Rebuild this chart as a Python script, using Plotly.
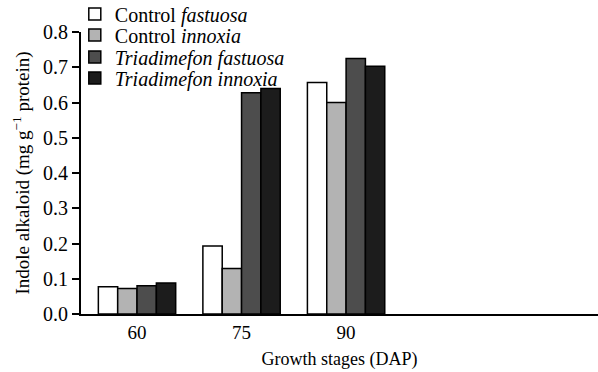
import plotly.graph_objects as go

stages = ["60", "75", "90"]
series_names = ["Control <i>fastuosa</i>", "Control <i>innoxia</i>",
                "<i>Triadimefon fastuosa</i>", "<i>Triadimefon innoxia</i>"]
control_fastuosa = [0.077, 0.193, 0.657]
control_innoxia = [0.072, 0.129, 0.600]
triad_fastuosa = [0.080, 0.628, 0.725]
triad_innoxia = [0.088, 0.640, 0.703]
y_ticks = [0.0, 0.1, 0.2, 0.3, 0.4, 0.5, 0.6, 0.7, 0.8]

values = [control_fastuosa, control_innoxia, triad_fastuosa, triad_innoxia]
colors = ["#ffffff", "#b3b3b3", "#4d4d4d", "#1c1c1c"]
legend_ids = ["legend", "legend2", "legend3", "legend4"]
legend_y = [1.064, 0.989, 0.911, 0.837]

font = "Liberation Serif, Times New Roman, serif"
xpos = list(range(len(stages)))
fig = go.Figure()
for name, vals, col, lid in zip(series_names, values, colors, legend_ids):
    fig.add_trace(go.Bar(x=xpos, y=vals, name=name, legend=lid, showlegend=True,
                         marker=dict(color=col, line=dict(color="black", width=1.5))))

legend_layout = {}
for lid, ly in zip(legend_ids, legend_y):
    legend_layout[lid] = dict(x=-0.012, y=ly, xanchor="left", yanchor="middle",
                              bgcolor="rgba(0,0,0,0)", font=dict(size=20),
                              borderwidth=0)

fig.update_layout(
    width=598, height=372,
    showlegend=True,
    margin=dict(l=81, r=0, t=32, b=58, autoexpand=False),
    paper_bgcolor="white", plot_bgcolor="white",
    barmode="group", bargap=0.26, bargroupgap=0,
    font=dict(family=font, size=19, color="black"),
    xaxis=dict(range=[-0.536, 4.41], tickvals=xpos, ticktext=stages,
               showline=True, linecolor="black", linewidth=2, ticks="",
               showgrid=False, zeroline=False, tickfont=dict(size=19),
               title=dict(text="Growth stages (DAP)", standoff=11, font=dict(size=18))),
    yaxis=dict(range=[0, 0.8], tickvals=y_ticks,
               ticktext=[f"{v:.1f}" for v in y_ticks],
               showline=True, linecolor="black", linewidth=2,
               ticks="outside", ticklen=7, tickwidth=1.5, tickcolor="black",
               showgrid=False, zeroline=False, tickfont=dict(size=20),
               title=dict(text="Indole alkaloid (mg g<sup>−1</sup> protein)", standoff=8,
                          font=dict(size=19))),
    **legend_layout,
)
fig.write_html("out.html", config={"displayModeBar": False},
               post_script="document.body.style.margin='0px';")
